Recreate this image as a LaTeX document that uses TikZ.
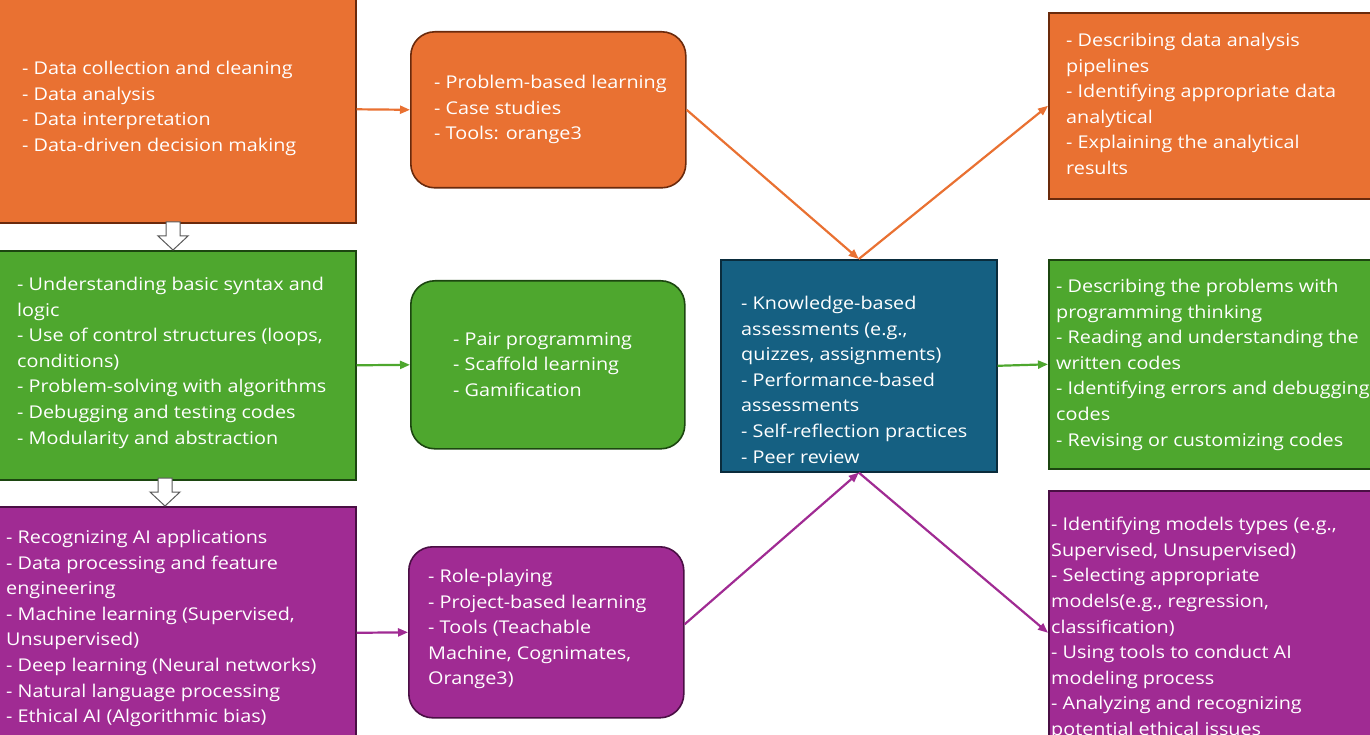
\documentclass[tikz,border=0pt]{standalone}
\usepackage{fontspec}
\setmainfont{Open Sans}[FakeStretch=1.125]
\usetikzlibrary{arrows.meta}
\definecolor{corange}{HTML}{E97132}
\definecolor{corangeD}{HTML}{6A2A0C}
\definecolor{cgreen}{HTML}{4EA72E}
\definecolor{cgreenD}{HTML}{1C4610}
\definecolor{cblue}{HTML}{156082}
\definecolor{cblueD}{HTML}{0A2C3C}
\definecolor{cpurple}{HTML}{A02B93}
\definecolor{cpurpleD}{HTML}{4A0F44}
\definecolor{cgrayline}{HTML}{5A5A5A}
\tikzset{
  box/.style={line width=1.6pt,inner sep=0pt,anchor=north west},
  obox/.style={box,draw=corangeD,fill=corange},
  gbox/.style={box,draw=cgreenD,fill=cgreen},
  bbox/.style={box,draw=cblueD,fill=cblue},
  pbox/.style={box,draw=cpurpleD,fill=cpurple},
  rbox/.style={rounded corners=24pt},
  txt/.style={anchor=north west,inner sep=0pt,align=left,text=white,
    font=\fontsize{17.6}{25.6}\selectfont},
  link/.style={line width=2.2pt,-{Triangle[length=10pt,width=8pt]}},
  hollow/.style={draw=cgrayline,fill=white,line width=1pt,line join=miter},
}

\begin{document}
\begin{tikzpicture}[x=1pt,y=-1pt]
\useasboundingbox (0,0) rectangle (1370,735);

% ================= left column: content =================
\node[obox,minimum width=358pt,minimum height=227pt] (dataL) at (-3,-5) {};
\node[gbox,minimum width=358pt,minimum height=229pt] (codeL) at (-3,250) {};
\node[pbox,minimum width=358pt,minimum height=252pt] (aiL) at (-3,506) {};
\node[txt] (dataLt) at (22,61) {- Data collection and cleaning\\- Data analysis\\- Data interpretation\\- Data-driven decision making};
\node[txt] (codeLt) at (17,277) {- Understanding basic syntax and\\logic\\- Use of control structures (loops,\\conditions)\\- Problem-solving with algorithms\\- Debugging and testing codes\\- Modularity and abstraction};
\node[txt] (aiLt) at (6,530) {- Recognizing AI applications\\- Data processing and feature\\engineering\\- Machine learning (Supervised,\\Unsupervised)\\- Deep learning (Neural networks)\\- Natural language processing\\- Ethical AI (Algorithmic bias)};

% ================= middle column: pedagogy =================
\node[obox,rbox,minimum width=275pt,minimum height=156pt] (dataM) at (410,31) {};
\node[gbox,rbox,minimum width=274pt,minimum height=168pt] (codeM) at (410,280) {};
\node[pbox,rbox,minimum width=275pt,minimum height=171pt] (aiM) at (408,546) {};
\node[txt] (dataMt) at (434,75) {- Problem-based learning\\- Case studies\\- Tools: orange3};
\node[txt] (codeMt) at (453,332) {- Pair programming\\- Scaffold learning\\- Gamification};
\node[txt] (aiMt) at (428,569) {- Role-playing\\- Project-based learning\\- Tools (Teachable\\Machine, Cognimates,\\Orange3)};

% ================= assessment =================
\node[bbox,minimum width=276pt,minimum height=212pt] (assess) at (720,259) {};
\node[txt] (assesst) at (741,296) {- Knowledge-based\\assessments (e.g.,\\quizzes, assignments)\\- Performance-based\\assessments\\- Self-reflection practices\\- Peer review};

% ================= right column: outcomes =================
\node[obox,minimum width=330pt,minimum height=186pt] (dataR) at (1048,12) {};
\node[gbox,minimum width=330pt,minimum height=209pt] (codeR) at (1048,259) {};
\node[pbox,minimum width=330pt,minimum height=284pt] (aiR) at (1048,490) {};
\node[txt] (dataRt) at (1066,33) {- Describing data analysis\\pipelines\\- Identifying appropriate data\\analytical\\- Explaining the analytical\\results};
\node[txt] (codeRt) at (1056,279) {- Describing the problems with\\programming thinking\\- Reading and understanding the\\written codes\\- Identifying errors and debugging\\codes\\- Revising or customizing codes};
\node[txt] (aiRt) at (1051,517) {- Identifying models types (e.g.,\\Supervised, Unsupervised)\\- Selecting appropriate\\models(e.g., regression,\\classification)\\- Using tools to conduct AI\\modeling process\\- Analyzing and recognizing\\potential ethical issues};

% ================= connectors =================
\draw[link,corange] (dataL.east) -- (dataM.west);
\draw[link,cgreen] (codeL.east) -- (codeM.west);
\draw[link,cpurple] (aiL.east) -- (aiM.west);
\draw[link,corange] (dataM.east) -- (assess.north);
\draw[link,corange] (assess.north) -- (dataR.west);
\draw[link,cgreen] (assess.east) -- (codeR.west);
\draw[link,cpurple] ([yshift=8pt]aiM.east) -- (assess.south);
\draw[link,cpurple] (assess.south) -- (aiR.west);

% hollow block arrows between the left boxes
\coordinate (tip1) at (173,250);
\coordinate (tip2) at (165,506);
\foreach \t in {tip1,tip2}{
  \draw[hollow] (\t) -- ++(-15,-14) -- ++(8,0) -- ++(0,-14) -- ++(14,0)
    -- ++(0,14) -- ++(8,0) -- cycle;
}
\end{tikzpicture}
\end{document}
